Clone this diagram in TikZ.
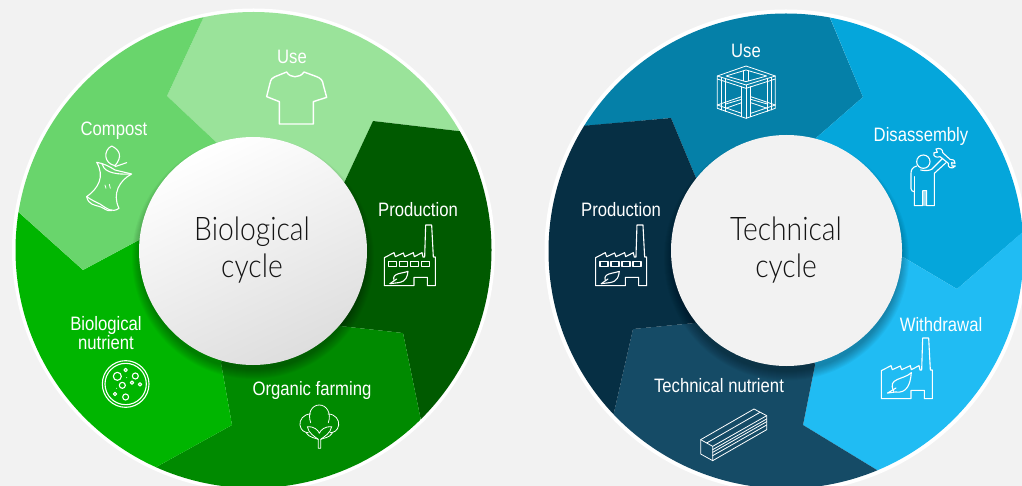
\documentclass[tikz,border=0pt]{standalone}
\usepackage{fontspec}
\usetikzlibrary{positioning}
\newfontfamily\labelfont{Liberation Sans}[FakeStretch=0.86]
\newfontfamily\hubfont{Lato}[UprightFont=* Light,FakeStretch=0.87]

\definecolor{pagebg}{HTML}{F2F2F2}
\definecolor{bioUse}{HTML}{9AE39A}
\definecolor{bioCompost}{HTML}{69D56C}
\definecolor{bioNutrient}{HTML}{00B500}
\definecolor{bioFarming}{HTML}{008A00}
\definecolor{bioProduction}{HTML}{005A00}
\definecolor{techUse}{HTML}{0580A8}
\definecolor{techDisassembly}{HTML}{05A6DB}
\definecolor{techWithdrawal}{HTML}{20BCF3}
\definecolor{techNutrient}{HTML}{154B66}
\definecolor{techProduction}{HTML}{062F44}

\tikzset{
    steplabel/.style={text=white,font=\labelfont\fontsize{19.4}{18}\selectfont,align=center,inner sep=0pt},
    hublabel/.style={text=black!92,font=\hubfont\fontsize{32.5}{37}\selectfont,align=center,inner sep=0pt},
    iconline/.style={draw=white,line width=1.1pt,line join=round,line cap=round},
    thinline/.style={draw=white,line width=0.8pt,line join=round,line cap=round},
}
% factory outline, in 1/3 px
\newcommand{\factoryshell}{
    \draw[iconline] (527,-54) -- (545,-54) -- (550,42) -- (556,42) -- (556,128) -- (532,128) -- (532,103)
        -- (492,103) -- (492,128) -- (403,128) -- (403,44) -- (432,29) -- (436,41) -- (460,30) -- (464,41)
        -- (490,29) -- (493,41) -- (516,29) -- (519,42) -- (524,42) -- cycle;
}
\newcommand{\factorywindows}{
    \factoryshell
    \foreach \wx in {416,449,482,515}
        \draw[iconline] (\wx,55) rectangle ++(24,15);
    \draw[iconline] (420,122) -- (445,119) .. controls (470,115) and (472,100) .. (474,85)
        .. controls (455,92) and (425,90) .. (432,112);
    \draw[iconline] (420,122) -- (440,108);
}
\newcommand{\factoryleaf}{
    \factoryshell
    \draw[iconline] (422,111) -- (445,108) .. controls (480,113) and (490,85) .. (493,50)
        .. controls (470,72) and (420,65) .. (440,105);
    \draw[iconline] (422,111) -- (447,96);
}

\begin{document}
\begin{tikzpicture}[x=1pt,y=-1pt]
    \clip (0,0) rectangle (1022,486);
    \fill[pagebg] (0,0) rectangle (1022,486);

    % left wheel
    \fill[white] (253.5,250) circle (241.5);
    \begin{scope}
        \clip (253.5,250) circle (238);
        \fill[bioUse] (253,250) -- (217,143) -- (167,96) -- (207,10) -- (207,-20) -- (500,-20) -- (475,133)
            -- (373,121) -- (344,183) -- cycle;
        \fill[bioProduction] (253,250) -- (344,183) -- (373,121) -- (475,133) -- (520,133) -- (520,450)
            -- (425,440) -- (403,333) -- (340,326) -- cycle;
        \fill[bioFarming] (253,250) -- (340,326) -- (403,333) -- (425,440) -- (425,520) -- (140,520)
            -- (140,476) -- (232,425) -- (221,363) -- cycle;
        \fill[bioNutrient] (253,250) -- (221,363) -- (232,425) -- (140,476) -- (140,520) -- (-10,520)
            -- (-10,200) -- (5,200) -- (83,270) -- (139,240) -- cycle;
        \fill[bioCompost] (253,250) -- (139,240) -- (83,270) -- (5,200) -- (-10,200) -- (-10,-20)
            -- (207,-20) -- (207,10) -- (167,96) -- (217,143) -- cycle;
    \end{scope}

    % right wheel
    \fill[white] (786,251) circle (241.5);
    \begin{scope}
        \clip (786,251) circle (237.5);
        \fill[techUse] (786,250) -- (696,178) -- (671,118) -- (585,126) -- (570,127) -- (570,-20) -- (826,-20)
            -- (826,8) -- (830,18) -- (863,97) -- (816,138) -- cycle;
        \fill[techDisassembly] (786,250) -- (816,138) -- (863,97) -- (826,8) -- (826,-20) -- (1040,-20)
            -- (1040,217) -- (1030,226) -- (957,289) -- (903,257) -- cycle;
        \fill[techWithdrawal] (786,250) -- (903,257) -- (957,289) -- (1040,217) -- (1040,520) -- (900,520)
            -- (895,481) -- (803,425) -- (815,365) -- cycle;
        \fill[techNutrient] (786,250) -- (815,365) -- (803,425) -- (895,481) -- (900,520) -- (600,520)
            -- (610,430) -- (633,329) -- (695,323) -- cycle;
        \fill[techProduction] (786,250) -- (695,323) -- (633,329) -- (610,430) -- (600,520) -- (500,520)
            -- (500,127) -- (570,127) -- (671,118) -- (696,178) -- cycle;
    \end{scope}

    % soft shadow under the hubs
    \foreach \sh in {1,...,10}{
        \fill[black,opacity=0.03] (253,258) circle ({111+\sh});
        \fill[black,opacity=0.03] (786.5,258) circle ({112.5+\sh});
    }
    \shade[top color=white,bottom color=black!13,shading angle=25] (253,251) circle (114);
    \fill[pagebg] (786.5,250.5) circle (115.5);

    % hub texts
    \node[hublabel] (bioHub) at (252,250) {Biological\\cycle};
    \node[hublabel] (techHub) at (786,250) {Technical\\cycle};

    % left labels
    \node[steplabel] (bioUseText) at (292,57) {Use};
    \node[steplabel] (bioCompostText) at (114,130.5) {Compost};
    \node[steplabel] (bioProductionText) at (418,210) {Production};
    \node[steplabel] (bioNutrientText) at (106,333) {Biological\\nutrient};
    \node[steplabel] (bioFarmingText) at (312,390.5) {Organic farming};

    % right labels
    \node[steplabel] (techUseText) at (746,51) {Use};
    \node[steplabel] (techDisassemblyText) at (921,136.5) {Disassembly};
    \node[steplabel] (techWithdrawalText) at (941,325) {Withdrawal};
    \node[steplabel] (techNutrientText) at (719,386) {Technical nutrient};
    \node[steplabel] (techProductionText) at (621,210) {Production};

    % shirt
    \begin{scope}[shift={(250,0)},scale=1/3]
        \draw[iconline,line width=1.4pt] (110,216) .. controls (120,235) and (150,235) .. (162,216) -- (200,230)
            .. controls (212,235) and (218,240) .. (220,255) -- (230,292) -- (190,305) -- (190,372) -- (88,372)
            -- (88,305) -- (50,290) -- (60,250) .. controls (62,238) and (68,232) .. (75,230) -- cycle;
    \end{scope}

    % apple core
    \begin{scope}[scale=1/3]
        \draw[iconline] (290,487) .. controls (315,530) and (295,565) .. (260,590)
            .. controls (275,600) and (285,605) .. (300,612) .. controls (320,625) and (335,640) .. (357,625)
            .. controls (335,580) and (360,540) .. (395,522) -- (345,510) .. controls (330,500) and (310,490) .. cycle;
        \draw[iconline] (305,490) .. controls (310,510) and (330,525) .. (392,522);
        \draw[iconline] (260,590) .. controls (265,615) and (285,615) .. (300,620) .. controls (315,625) and (320,635) .. (335,632);
        \draw[iconline] (345,497) .. controls (310,490) and (310,450) .. (335,438)
            .. controls (360,450) and (368,470) .. cycle;
        \draw[iconline] (345,500) -- (380,488);
        \draw[thinline] (315,555) -- (318,565) (328,553) -- (331,565);
    \end{scope}

    % factories
    \begin{scope}[shift={(250,243)},scale=1/3]
        \factorywindows
    \end{scope}
    \begin{scope}[shift={(461.3,243)},scale=1/3]
        \factorywindows
    \end{scope}
    \begin{scope}[shift={(747,356)},scale=1/3]
        \factoryleaf
    \end{scope}

    % petri dish
    \begin{scope}[shift={(0,243)},scale=1/3]
        \draw[iconline] (377,423) circle (70);
        \draw[iconline] (377,423) circle (62);
        \draw[iconline] (352,400) circle (12);
        \draw[iconline] (406,399) circle (9);
        \draw[iconline] (367,427) circle (9);
        \draw[iconline] (377,462) circle (9);
        \foreach \bx/\by in {377/381,396/419,420/424,345/453}
            \draw[iconline] (\bx,\by) circle (5);
        \fill[white] (380,404) circle (1.5) (350,436) circle (1.5);
    \end{scope}

    % cotton
    \begin{scope}[shift={(290,400)},scale=1/3]
        \draw[thinline] (62,68) .. controls (52,40) and (65,15) .. (88,15) .. controls (110,15) and (125,40) .. (115,68);
        \draw[thinline] (62,42) .. controls (40,42) and (28,60) .. (30,75) .. controls (32,92) and (45,98) .. (55,98);
        \draw[thinline] (114,42) .. controls (136,42) and (148,60) .. (146,75) .. controls (144,92) and (131,98) .. (121,98);
        \draw[thinline] (85,118) .. controls (75,110) and (55,100) .. (52,80) .. controls (70,78) and (85,90) .. (88,100)
            .. controls (91,90) and (106,78) .. (125,80) .. controls (122,100) and (102,110) .. (92,118);
        \draw[thinline] (48,98) .. controls (60,115) and (75,113) .. (85,118) -- (85,145) -- (92,145) -- (92,118)
            .. controls (102,113) and (117,115) .. (128,98);
    \end{scope}

    % frame cube
    \begin{scope}[shift={(710,60)},scale=1/3]
        \draw[thinline] (108,18) -- (196,48) -- (196,145) -- (108,175) -- (22,145) -- (22,48) -- cycle;
        \draw[thinline] (22,48) -- (108,75) -- (196,48) (22,57) -- (108,85) -- (196,57);
        \draw[thinline] (108,30) -- (170,48) -- (108,65) -- (48,48) -- cycle;
        \draw[thinline] (95,80) -- (95,170) (122,80) -- (122,170) (108,75) -- (108,175);
        \draw[thinline] (35,52) -- (35,150) (47,55) -- (47,154) (172,55) -- (172,154) (185,52) -- (185,150);
        \draw[thinline] (100,32) -- (100,62) (115,32) -- (115,62);
        \draw[thinline] (22,135) -- (95,110) (196,135) -- (122,110) (47,132) -- (95,118) (172,132) -- (122,118);
        \draw[thinline] (47,145) -- (95,128) (172,145) -- (122,128);
        \draw[thinline] (22,135) -- (95,160) (196,135) -- (122,160);
    \end{scope}

    % beam
    \begin{scope}[shift={(540,243)},scale=1/3]
        \draw[thinline] (482,590) -- (642,498) -- (680,518) -- (680,560) -- (518,653) -- (482,633) -- cycle;
        \draw[thinline] (482,590) -- (518,610) -- (518,653) (518,610) -- (680,518);
        \draw[thinline] (500,600) -- (660,508) (518,620) -- (680,528) (518,628) -- (680,536) (518,638) -- (680,546);
    \end{scope}

    % worker with spanner
    \begin{scope}[shift={(900,140)},scale=1/3]
        \fill[white,opacity=0.6] (68,152) rectangle (80,197);
        \draw[iconline] (70,65) circle (20);
        \draw[iconline] (50,78) .. controls (38,82) and (33,88) .. (33,100) -- (33,146)
            .. controls (33,152) and (38,155) .. (43,155) -- (43,197) -- (68,197) -- (68,152) -- (80,152)
            -- (80,197) -- (103,197) -- (103,100) -- (138,68);
        \draw[iconline] (43,155) -- (43,110);
        \draw[iconline] (62,90) .. controls (75,93) and (88,92) .. (95,88) -- (128,55);
        \draw[iconline] (108,27) -- (112,37) -- (102,38) .. controls (98,50) and (110,54) .. (120,50) -- (145,70)
            .. controls (141,82) and (156,90) .. (166,78) -- (156,78) -- (155,68) -- (165,70)
            .. controls (164,60) and (158,57) .. (150,58) -- (128,38) .. controls (130,28) and (118,22) .. cycle;
    \end{scope}
\end{tikzpicture}
\end{document}
